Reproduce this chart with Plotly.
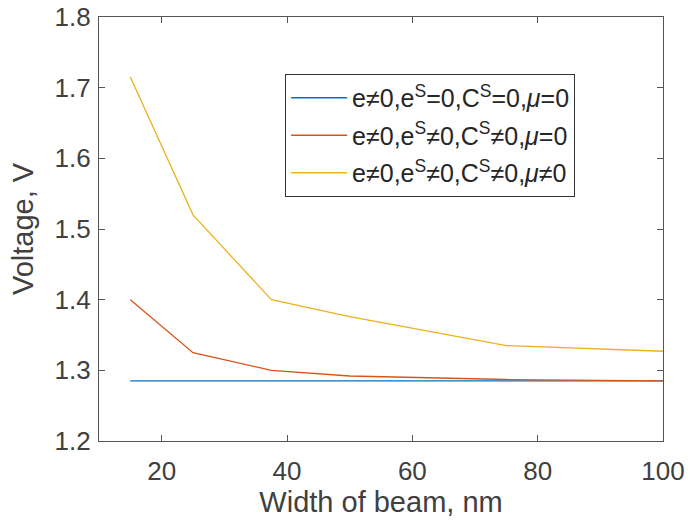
import plotly.graph_objects as go

width_nm = [15, 25, 37.5, 50, 75, 100]
v_case1 = [1.285, 1.285, 1.285, 1.285, 1.285, 1.285]
v_case2 = [1.400, 1.325, 1.300, 1.292, 1.287, 1.285]
v_case3 = [1.715, 1.520, 1.400, 1.376, 1.335, 1.327]
series_names = [
    "e≠0,e<sup>S</sup>=0,C<sup>S</sup>=0,<i>μ</i>=0",
    "e≠0,e<sup>S</sup>≠0,C<sup>S</sup>≠0,<i>μ</i>=0",
    "e≠0,e<sup>S</sup>≠0,C<sup>S</sup>≠0,<i>μ</i>≠0",
]
x_ticks = [20, 40, 60, 80, 100]
y_ticks = [1.2, 1.3, 1.4, 1.5, 1.6, 1.7, 1.8]
colors = ["#0072BD", "#D95319", "#EDB120"]

FONT = "Liberation Sans, Arial, Helvetica, sans-serif"
AX = "#555555"
TXT = "#404040"

fig = go.Figure()
for i, ys in enumerate([v_case1, v_case2, v_case3]):
    fig.add_trace(go.Scatter(
        x=width_nm, y=ys, mode="lines", name=series_names[i],
        legendgroup=f"g{i}",
        line=dict(color=colors[i], width=1.3),
    ))

axis_common = dict(
    showline=True, linecolor=AX, linewidth=1.3, mirror="allticks",
    ticks="inside", ticklen=6, tickcolor=AX, tickwidth=1.2,
    showgrid=False, zeroline=False, automargin=False,
    ticklabeloverflow="allow",
    tickfont=dict(family=FONT, size=26, color=TXT),
)

fig.update_layout(
    width=689, height=525,
    margin=dict(l=99, r=26, t=17, b=84),
    paper_bgcolor="white", plot_bgcolor="white",
    font=dict(family=FONT, color=TXT),
    xaxis=dict(range=[10, 100], tickvals=x_ticks,
               ticktext=[str(v) for v in x_ticks], ticklabelstandoff=7,
               title=dict(text="Width of beam, nm", font=dict(size=29, color=TXT), standoff=4),
               **axis_common),
    yaxis=dict(range=[1.2, 1.8], tickvals=y_ticks,
               ticktext=[f"{v:.1f}" for v in y_ticks], ticklabelstandoff=2,
               title=dict(text="Voltage, V", font=dict(size=29, color=TXT), standoff=12),
               **axis_common),
    legend=dict(x=0.33, y=0.8656, xanchor="left", yanchor="top",
                bordercolor="#333333", borderwidth=1, bgcolor="white",
                font=dict(family=FONT, size=25, color="#262626"),
                traceorder="grouped", tracegroupgap=2, itemwidth=56),
    showlegend=True,
)

fig.write_html("out.html", config={"displayModeBar": False},
               post_script="document.body.style.margin='0';")
